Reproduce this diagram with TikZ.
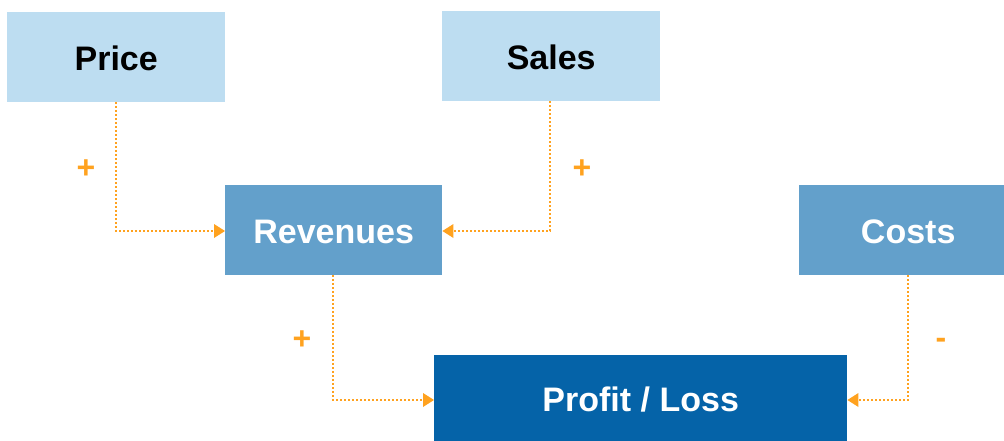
\documentclass[tikz,border=0pt]{standalone}
\usepackage{fontspec}
\setmainfont{Liberation Sans}
\usetikzlibrary{arrows.meta}
\definecolor{lightbox}{HTML}{BDDDF1}
\definecolor{midbox}{HTML}{63A0CB}
\definecolor{darkbox}{HTML}{0563A8}
\definecolor{orangeline}{HTML}{FFA21F}
\tikzset{
  box/.style={rectangle, inner sep=0pt, anchor=north west, text height=26pt, text depth=0pt, font=\fontsize{34}{40}\selectfont\bfseries},
  lbox/.style={box, fill=lightbox, text=black},
  mbox/.style={box, fill=midbox, text=white},
  dbox/.style={box, fill=darkbox, text=white},
  link/.style={draw=orangeline, line width=1.8pt, dash pattern=on 2pt off 2pt, -{Triangle[length=11pt,width=14pt,fill=orangeline,color=orangeline,line width=0pt]}},
  sign/.style={text=orangeline, font=\fontsize{32}{36}\selectfont\bfseries}
}
\begin{document}
\begin{tikzpicture}[x=1pt,y=-1pt]
\useasboundingbox (0,0) rectangle (1004,441);
\node[lbox, minimum width=218pt, minimum height=90pt] (price) at (7,12) {Price};
\node[lbox, minimum width=218pt, minimum height=90pt] (sales) at (442,11) {Sales};
\node[mbox, minimum width=217pt, minimum height=90pt] (rev) at (225,185) {Revenues};
\node[mbox, minimum width=218pt, minimum height=90pt] (costs) at (799,185) {Costs};
\node[dbox, minimum width=413pt, minimum height=86pt] (pl) at (434,355) {Profit / Loss};
\coordinate (c1) at (116,231);
\coordinate (c2) at (550,231);
\coordinate (c3) at (333,400);
\coordinate (c4) at (908,400);
\draw[link] (price.south -| c1) -- (c1) -- (rev.west |- c1);
\draw[link] (sales.south -| c2) -- (c2) -- (rev.east |- c2);
\draw[link] (rev.south -| c3) -- (c3) -- (pl.west |- c3);
\draw[link] (costs.south -| c4) -- (c4) -- (pl.east |- c4);
\node[sign] (s1) at (86,169) {+};
\node[sign] (s2) at (582,169) {+};
\node[sign] (s3) at (302,340) {+};
\node[sign] (s4) at (941,343) {-};
\end{tikzpicture}
\end{document}
